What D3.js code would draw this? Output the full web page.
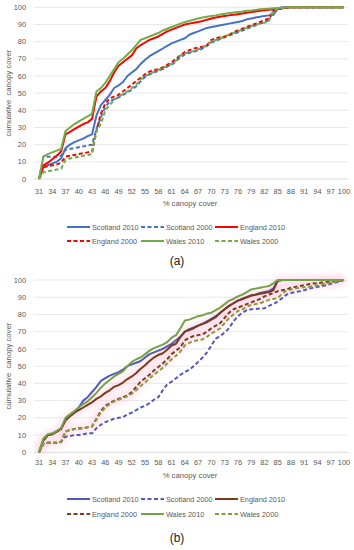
<!DOCTYPE html>
<html>
<head>
<meta charset="utf-8">
<script src="https://cdn.jsdelivr.net/npm/d3@7"></script>
<style>
  body { margin: 0; background: #fff; }
  text { font-family: "Liberation Sans", Arial, sans-serif; }
</style>
</head>
<body>
<svg id="chart" width="354" height="550"></svg>
<script>
// % canopy cover categories (x axis)
const cats = d3.range(31, 101);
const seriesNames = ["Scotland 2010", "Scotland 2000", "England 2010", "England 2000", "Wales 2010", "Wales 2000"];

// panel (a)
const aScot10 = [0, 7, 8, 9, 10, 12, 18, 20, 21.5, 22.5,
  23.5, 25, 26, 37, 43, 46, 49, 53, 54.5, 56.5,
  60, 62, 64, 67, 69.5, 71.5, 73, 74.5, 76, 77.5,
  79, 80, 81, 82, 84, 85, 86, 87, 88, 88.5,
  89, 89.5, 90, 90.5, 91, 91.5, 92, 93, 93.5, 94,
  94.5, 95, 95.3, 95.5, 99, 100, 100, 100, 100, 100,
  100, 100, 100, 100, 100, 100, 100, 100, 100, 100];
const aScot00 = [0, 13, 13, 13, 13, 13.5, 17, 17.5, 18, 18.5,
  19, 19.5, 20, 29, 36, 42, 45, 46.5, 47.5, 49,
  50.5, 52, 54, 57, 59.5, 61, 62, 63, 64, 65.5,
  66.5, 68.5, 71, 72.5, 73.5, 74, 75, 76, 77.5, 79.5,
  80.5, 81.5, 82.5, 83.5, 84.5, 85.5, 86.5, 87.5, 88.5, 89.5,
  90.5, 91.5, 92.5, 98, 99, 99.5, 100, 100, 100, 100,
  100, 100, 100, 100, 100, 100, 100, 100, 100, 100];
const aEng10 = [0, 8, 9.5, 11.5, 13.5, 16, 26, 27.5, 29, 30.5,
  32, 33, 35, 48, 51, 53, 57, 62, 66, 68,
  70, 72, 76, 78, 79.5, 81, 82, 83, 84.5, 86,
  87, 88, 89, 90, 90.5, 91, 91.5, 92, 92.8, 93.5,
  94, 94.5, 95, 95.3, 95.6, 96, 96.4, 96.8, 97.2, 97.6,
  98, 98.3, 98.6, 98.9, 99.2, 99.5, 99.8, 100, 100, 100,
  100, 100, 100, 100, 100, 100, 100, 100, 100, 100];
const aEng00 = [0, 7, 7.5, 8, 8.5, 9.5, 13, 13.5, 14, 14.5,
  15, 15.5, 16, 28, 38, 44, 47, 48, 49, 51,
  53, 55, 57, 59, 61, 62.5, 63.5, 64, 65, 66.5,
  68, 70, 72, 74, 75, 76, 76.5, 77, 78, 81,
  82, 82.5, 83, 84, 85.5, 86.5, 87.5, 88.5, 89.5, 90.5,
  91.5, 92.5, 93.5, 98, 99, 99.5, 100, 100, 100, 100,
  100, 100, 100, 100, 100, 100, 100, 100, 100, 100];
const aWal10 = [0, 13, 14.5, 15.5, 16.5, 17.5, 28, 30, 32, 33.5,
  35, 36.5, 38, 51, 53, 56, 60, 64, 68, 70,
  72.5, 75, 78, 81, 82, 83, 84, 85, 86.5, 87.5,
  88.5, 89.5, 90.5, 91.5, 92, 92.8, 93.5, 94, 94.5, 95,
  95.3, 95.8, 96.2, 96.6, 97, 97.3, 97.6, 98, 98.2, 98.5,
  98.8, 99, 99.2, 99.4, 99.6, 99.8, 100, 100, 100, 100,
  100, 100, 100, 100, 100, 100, 100, 100, 100, 100];
const aWal00 = [0, 4, 4.5, 5, 5.5, 6, 11, 12, 12.5, 13,
  13.5, 14, 14.5, 28, 32, 40, 43, 46, 48, 49.5,
  51, 53, 55, 58, 60, 61, 62.5, 63.5, 64.5, 66,
  67, 69, 72, 73, 74, 74.5, 75.5, 76.5, 78, 80,
  81, 82, 83, 84, 85, 86, 87, 88, 89, 90,
  90.5, 91, 92, 98, 99, 99.5, 100, 100, 100, 100,
  100, 100, 100, 100, 100, 100, 100, 100, 100, 100];

// panel (b)
const bScot10 = [0, 7, 10, 10.5, 12, 14, 19, 21, 23, 26,
  30, 32, 35, 38, 41.5, 43, 44.5, 45.5, 46.5, 48,
  50, 51, 52, 53, 55, 57, 58, 59, 60, 61.5,
  63, 65, 67, 70, 71.5, 72.5, 73.5, 74.5, 76, 77.5,
  79, 81, 83, 85, 86.5, 88, 89, 90, 91, 91.5,
  92.5, 93, 93.5, 95, 99.5, 100, 100, 100, 100, 100,
  100, 100, 100, 100, 100, 100, 100, 100, 100, 100];
const bScot00 = [0, 5, 5.5, 5.5, 5.5, 6, 9, 9.5, 10, 10,
  10.5, 11, 11, 14, 16, 17.5, 18.5, 19.5, 20, 20.5,
  22, 23, 24.5, 26, 27, 28.5, 30.5, 32, 36, 39.5,
  41, 43, 45, 46.5, 48, 50, 52.5, 55, 58, 62,
  66, 67.5, 69.5, 72, 76, 79, 81, 82.5, 83, 83.2,
  83.4, 83.6, 85, 86, 87.5, 89.5, 91.5, 92.5, 93, 93.5,
  94, 95, 95.5, 96, 96.5, 97, 97.8, 98.5, 99.2, 100];
const bEng10 = [0, 7, 10, 10.5, 12, 13.5, 18.5, 21, 23, 24.5,
  26, 27.5, 29, 31, 32.5, 34.5, 36, 38, 39, 40.5,
  42.5, 44, 46, 48.5, 50.5, 53, 55, 56.5, 57.5, 59.5,
  62, 63, 67, 70, 71, 72, 73.5, 74.5, 75.5, 77,
  78.5, 81, 83, 85, 86.5, 88, 89, 90, 91, 91.5,
  92, 92.5, 93, 94, 99.5, 100, 100, 100, 100, 100,
  100, 100, 100, 100, 100, 100, 100, 100, 100, 100];
const bEng00 = [0, 5, 5.5, 5.5, 5.5, 6, 12, 13, 13.5, 14,
  14, 14.5, 15, 19.5, 24, 27, 28.5, 30, 31, 32,
  33, 35, 38, 41, 43, 45, 47.5, 49.5, 51.5, 54,
  57, 59, 61, 65, 66.5, 67.5, 68, 68.5, 70, 72,
  73.5, 75, 78, 81, 83, 84, 85, 86, 87, 88,
  89, 90.5, 91.5, 92.5, 93.5, 94, 94.5, 95.5, 96, 96.5,
  97, 97.5, 98, 98.2, 98.5, 98.7, 99, 99.3, 99.6, 100];
const bWal10 = [0, 8, 10.5, 11, 12.5, 14, 20, 22, 24, 26,
  28, 29.5, 32, 34.5, 37.5, 40, 42, 44, 45.5, 47,
  50, 52.5, 54, 55, 57, 59, 60.5, 61.5, 62.5, 64,
  66.5, 68, 72, 76.5, 77, 78, 79, 79.5, 80.5, 81,
  82.5, 84, 86, 88, 89, 90.5, 91.5, 93, 94.5, 95,
  95.5, 96, 96.5, 98, 100, 100, 100, 100, 100, 100,
  100, 100, 100, 100, 100, 100, 100, 100, 100, 100];
const bWal00 = [0, 5, 5.5, 5.5, 5.5, 6, 12, 13, 13.5, 13.5,
  14, 14.5, 15, 19, 23, 26, 28, 29.5, 30.5, 31.5,
  32.5, 34, 36, 38.5, 40.5, 43, 45, 47, 49, 51.5,
  54, 56, 58.5, 62, 63.5, 64.5, 65, 65.5, 67, 69,
  70.5, 72, 75, 78, 80, 82, 83, 84.5, 85.5, 86,
  86.5, 87.5, 88.5, 89, 89.5, 92, 94, 94.5, 95, 95.5,
  95.8, 96, 96.5, 97, 97.5, 98, 98.5, 99, 99.5, 100];

const yTicks = [0, 10, 20, 30, 40, 50, 60, 70, 80, 90, 100];
const xTickLabels = cats.filter((c, i) => i % 3 === 0);

const colorsA = ["#4472C4", "#4472C4", "#FF0000", "#FF0000", "#70AD47", "#70AD47"];
const colorsB = ["#5458b8", "#5458b8", "#7f3a1c", "#7f3a1c", "#72a447", "#8a9a3e"];
const dashed = [false, true, false, true, false, true];

const svg = d3.select("#chart");

const defs = svg.append("defs");
defs.append("filter")
    .attr("id", "glow")
    .attr("x", "-20%").attr("y", "-20%")
    .attr("width", "140%").attr("height", "140%")
  .append("feGaussianBlur")
    .attr("stdDeviation", 3);

function drawPanel(g, p) {
    const x = d3.scalePoint().domain(cats).range([39, 344]);
    const y = d3.scaleLinear().domain([0, 100]).range([p.yBot, p.yTop]);

    // gridlines
    g.append("g").selectAll("line")
        .data(yTicks)
        .join("line")
        .attr("x1", 34).attr("x2", 348)
        .attr("y1", d => y(d)).attr("y2", d => y(d))
        .attr("stroke", d => d === 0 ? "#cfcfcf" : "#e2e2e2")
        .attr("stroke-width", 0.8);

    // y tick labels
    g.append("g").selectAll("text")
        .data(yTicks)
        .join("text")
        .attr("x", 26)
        .attr("y", d => y(d) + 2.6)
        .attr("text-anchor", "end")
        .attr("font-size", 7.4)
        .attr("fill", "#595959")
        .text(d => d);

    // x tick labels
    g.append("g").selectAll("text")
        .data(xTickLabels)
        .join("text")
        .attr("x", d => x(d))
        .attr("y", p.tickY + 2.6)
        .attr("text-anchor", "middle")
        .attr("font-size", 7.4)
        .attr("fill", "#595959")
        .text(d => d);

    // axis titles
    g.append("text")
        .attr("x", 190).attr("y", p.titleY + 2.7)
        .attr("text-anchor", "middle")
        .attr("font-size", 7.7)
        .attr("fill", "#595959")
        .text("% canopy cover");

    g.append("text")
        .attr("transform", `translate(11, ${(p.yTop + p.yBot) / 2}) rotate(-90)`)
        .attr("text-anchor", "middle")
        .attr("font-size", 7.7)
        .attr("fill", "#595959")
        .style("white-space", "pre")
        .text("cumulative  canopy cover");

    const line = d3.line()
        .x((d, i) => x(cats[i]))
        .y(d => y(d));

    // soft pink glow under England series (panel b)
    if (p.glow) {
        g.append("g").selectAll("path")
            .data(p.series.filter((s, i) => i === 2 || i === 3))
            .join("path")
            .attr("d", d => line(d))
            .attr("fill", "none")
            .attr("stroke", "#fbc3d9")
            .attr("stroke-opacity", 0.45)
            .attr("stroke-width", 9)
            .attr("stroke-linejoin", "round")
            .attr("filter", "url(#glow)");
    }

    g.append("g").selectAll("path")
        .data(p.series)
        .join("path")
        .attr("d", d => line(d))
        .attr("fill", "none")
        .attr("stroke", (d, i) => p.colors[i])
        .attr("stroke-width", 2)
        .attr("stroke-linejoin", "round")
        .attr("stroke-dasharray", (d, i) => dashed[i] ? "4,2.5" : null);

    // legend
    const legX = [67, 141, 215];
    const legItems = seriesNames.map((name, i) => ({
        name: name, i: i,
        x: legX[i % 3],
        y: i < 3 ? p.leg1 : p.leg2
    }));

    const leg = g.append("g").selectAll("g")
        .data(legItems)
        .join("g")
        .attr("transform", d => `translate(${d.x}, ${d.y})`);

    if (p.glow) {
        leg.filter(d => d.i === 2 || d.i === 3)
            .append("line")
            .attr("x1", 0).attr("x2", 23)
            .attr("stroke", "#fbc3d9")
            .attr("stroke-opacity", 0.45)
            .attr("stroke-width", 9)
            .attr("filter", "url(#glow)");
    }

    leg.append("line")
        .attr("x1", 0).attr("x2", 23)
        .attr("stroke", d => p.colors[d.i])
        .attr("stroke-width", 2)
        .attr("stroke-dasharray", d => dashed[d.i] ? "4,2.5" : null);

    leg.append("text")
        .attr("x", 25)
        .attr("y", 2.6)
        .attr("font-size", 7.3)
        .attr("fill", "#595959")
        .text(d => d.name);

    g.append("text")
        .attr("x", 177).attr("y", p.labelY + 4)
        .attr("text-anchor", "middle")
        .attr("font-size", 12)
        .attr("fill", "#222")
        .text(p.label);
}

drawPanel(svg.append("g"), {
    yTop: 7.3, yBot: 179, tickY: 191, titleY: 203, leg1: 227, leg2: 241, labelY: 261,
    series: [aScot10, aScot00, aEng10, aEng00, aWal10, aWal00],
    colors: colorsA, glow: false, label: "(a)"
});

drawPanel(svg.append("g"), {
    yTop: 280, yBot: 452.3, tickY: 462.7, titleY: 475.7, leg1: 499, leg2: 514, labelY: 538,
    series: [bScot10, bScot00, bEng10, bEng00, bWal10, bWal00],
    colors: colorsB, glow: true, label: "(b)"
});
</script>
</body>
</html>
